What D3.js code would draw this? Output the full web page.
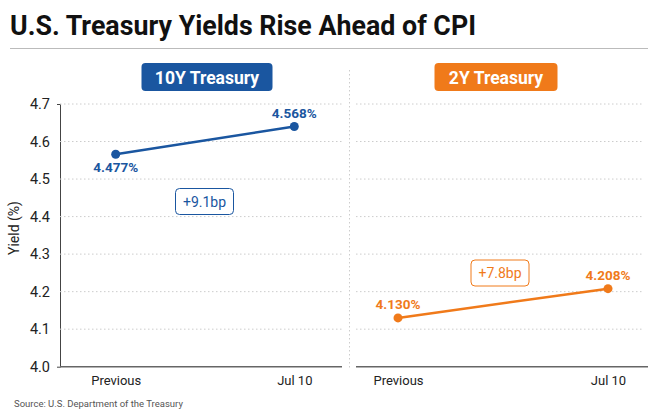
<!DOCTYPE html>
<html>
<head>
<meta charset="utf-8">
<script src="https://cdn.jsdelivr.net/npm/d3@7"></script>
<style>
  body { margin: 0; background: #fff; }
  text { font-family: Roboto, "Liberation Sans", sans-serif; }
</style>
</head>
<body>
<svg id="chart" width="660" height="420"></svg>
<script>
// data
const periods = ["Previous", "Jul 10"];
const yTicks = [4.0, 4.1, 4.2, 4.3, 4.4, 4.5, 4.6, 4.7];
const tenYearYield = [4.477, 4.568];
// 10Y marker heights as they sit in the reference (drawn above the labelled values)
const tenYearMarker = [4.566, 4.640];
const twoYearYield = [4.130, 4.208];
const tenYearChange = "+9.1bp";
const twoYearChange = "+7.8bp";

const blue = "#1a56a0", orange = "#f07a1a";

const svg = d3.select('#chart');

// title + rule
svg.append('text').attr('x', 10).attr('y', 35)
  .attr('font-size', 28).attr('font-weight', 700).attr('fill', '#111')
  .attr('textLength', 466).attr('lengthAdjust', 'spacingAndGlyphs')
  .text('U.S. Treasury Yields Rise Ahead of CPI');
svg.append('line').attr('x1', 10).attr('x2', 648).attr('y1', 48.5).attr('y2', 48.5)
  .attr('stroke', '#bbb').attr('stroke-width', 1);

const y = d3.scaleLinear().domain([4.0, 4.7]).range([366.7, 104]);

// y axis
let yAxis = svg.append('g').attr('transform', 'translate(60,0)')
  .call(d3.axisLeft(y).tickValues(yTicks).tickFormat(d3.format('.1f')).tickSizeInner(0).tickSizeOuter(3).tickPadding(10));
yAxis.select('.domain').attr('stroke', '#444');
yAxis.selectAll('text').attr('font-size', 14.5).attr('fill', '#222')
  .attr('font-family', 'Roboto, sans-serif');

svg.append('text').attr('transform', 'translate(19,228) rotate(-90)')
  .attr('text-anchor', 'middle').attr('font-size', 14).attr('fill', '#222')
  .text('Yield (%)');

// separator
svg.append('line').attr('x1', 349.5).attr('x2', 349.5).attr('y1', 70).attr('y2', 370)
  .attr('stroke', '#ccc').attr('stroke-dasharray', '1.5,2.5');

function panel(cfg){
  let g = svg.append('g');
  let x = d3.scalePoint().domain(periods).range(cfg.points);

  // grid
  g.selectAll('line.grid').data(yTicks.slice(1)).join('line').classed('grid', true)
    .attr('x1', cfg.left).attr('x2', cfg.gridRight)
    .attr('y1', d => y(d)).attr('y2', d => y(d))
    .attr('stroke', '#ccc').attr('stroke-dasharray', '1.5,2.5');

  // baseline + x labels
  g.append('line').attr('x1', cfg.left).attr('x2', cfg.right)
    .attr('y1', y(4.0)).attr('y2', y(4.0)).attr('stroke', '#666').attr('stroke-width', 1.5);
  let xAxis = g.append('g').attr('transform', `translate(0,${y(4.0)})`)
    .call(d3.axisBottom(x).tickSize(0).tickPadding(9));
  xAxis.select('.domain').remove();
  xAxis.selectAll('text').attr('font-size', 13).attr('fill', '#222')
    .attr('font-family', 'Roboto, sans-serif');

  // badge
  let bw = cfg.badgeW, bx = cfg.badgeCx - bw / 2;
  g.append('rect').attr('x', bx).attr('y', 63).attr('width', bw).attr('height', 28)
    .attr('rx', 4).attr('fill', cfg.color);
  g.append('text').attr('x', cfg.badgeCx).attr('y', 83.5).attr('text-anchor', 'middle')
    .attr('font-size', 17.5).attr('font-weight', 700).attr('fill', '#fff').text(cfg.name);

  // line + markers
  let pts = periods.map((p, i) => ({ p, v: cfg.marker[i], label: cfg.labels[i] }));
  g.append('path').datum(pts)
    .attr('d', d3.line().x(d => x(d.p)).y(d => y(d.v)))
    .attr('fill', 'none').attr('stroke', cfg.color).attr('stroke-width', 2.5);
  g.selectAll('circle').data(pts).join('circle')
    .attr('cx', d => x(d.p)).attr('cy', d => y(d.v)).attr('r', 4.5).attr('fill', cfg.color);
  g.selectAll('text.val').data(pts).join('text').classed('val', true)
    .attr('x', d => x(d.p)).attr('y', (d, i) => y(d.v) + cfg.labelDy[i])
    .attr('text-anchor', 'middle').attr('font-size', 13.5).attr('font-weight', 700)
    .attr('fill', cfg.color).text(d => d.label.toFixed(3) + '%');

  // change box
  let cb = g.append('g').attr('transform', `translate(${cfg.boxCx},${cfg.boxCy})`);
  cb.append('rect').attr('x', -29).attr('y', -13).attr('width', 58).attr('height', 26)
    .attr('rx', 4).attr('fill', '#fff').attr('stroke', cfg.color).attr('stroke-width', 1);
  cb.append('text').attr('y', 5).attr('text-anchor', 'middle')
    .attr('font-size', 14).attr('fill', cfg.color).text(cfg.change);
}

panel({ name: '10Y Treasury', color: blue, left: 60, right: 342, gridRight: 342,
  points: [115.7, 294.3], marker: tenYearMarker, labels: tenYearYield, labelDy: [17.5, -9],
  badgeCx: 207, badgeW: 131, boxCx: 204.5, boxCy: 201.5, change: tenYearChange });

panel({ name: '2Y Treasury', color: orange, left: 356, right: 648, gridRight: 642,
  points: [398, 608], marker: twoYearYield, labels: twoYearYield, labelDy: [-9, -9],
  badgeCx: 496, badgeW: 123, boxCx: 500, boxCy: 273, change: twoYearChange });

// source
svg.append('text').attr('x', 14).attr('y', 407).attr('font-size', 9.5).attr('fill', '#555')
  .text('Source: U.S. Department of the Treasury');
</script>
</body>
</html>
